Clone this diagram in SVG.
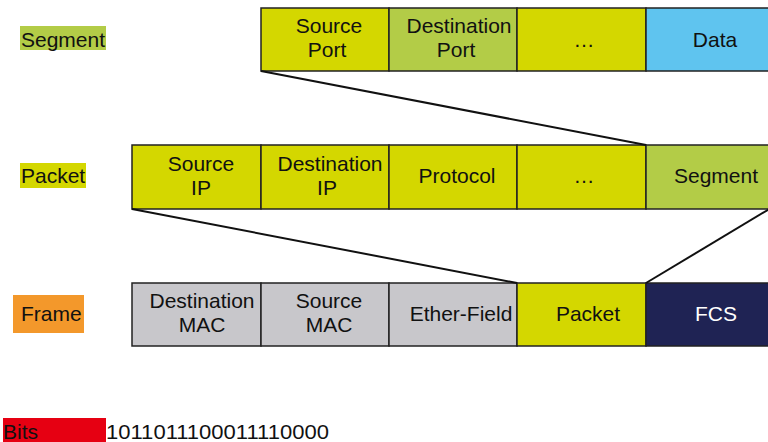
<svg xmlns="http://www.w3.org/2000/svg" width="768" height="442" viewBox="0 0 768 442">
<style>
text{font-family:"Liberation Sans",Arial,sans-serif;font-size:21px;fill:#111;text-anchor:middle}
.lbl{text-anchor:start}
.c{stroke:#222;stroke-width:1.5}
.yg{fill:#d4d700}.lg{fill:#b3cc47}.bl{fill:#5fc4ef}.gr{fill:#c8c7cb}.nv{fill:#1f2354}
.con{stroke:#111;stroke-width:2;fill:none}
</style>
<rect width="768" height="442" fill="#fff"/>
<g id="labels">
<rect x="20" y="26" width="86" height="24" fill="#b3cc47"/>
<text class="lbl" x="21" y="47">Segment</text>
<rect x="20" y="163" width="66" height="25" fill="#d4d700"/>
<text class="lbl" x="21" y="183">Packet</text>
<rect x="13" y="295" width="71" height="38" fill="#f3982b"/>
<text class="lbl" x="21" y="321">Frame</text>
<rect x="3" y="418" width="103" height="24" fill="#e60012"/>
<text class="lbl" x="3" y="439">Bits</text>
<text class="lbl" x="106" y="439" textLength="223" lengthAdjust="spacingAndGlyphs">1011011100011110000</text>
</g>
<g id="segment">
<rect class="c yg" x="261" y="8" width="128" height="63"/>
<rect class="c lg" x="389" y="8" width="128" height="63"/>
<rect class="c yg" x="517" y="8" width="129" height="63"/>
<rect class="c bl" x="646" y="8" width="130" height="63"/>
<text x="329" y="33">Source</text><text x="327" y="57">Port</text>
<text x="459" y="33">Destination</text><text x="456" y="57">Port</text>
<text x="584" y="47">…</text>
<text x="715" y="47">Data</text>
</g>
<g id="packet">
<rect class="c yg" x="132" y="145" width="129" height="64"/>
<rect class="c yg" x="261" y="145" width="128" height="64"/>
<rect class="c yg" x="389" y="145" width="128" height="64"/>
<rect class="c yg" x="517" y="145" width="129" height="64"/>
<rect class="c lg" x="646" y="145" width="130" height="64"/>
<text x="201" y="171">Source</text><text x="201" y="195">IP</text>
<text x="330" y="171">Destination</text><text x="327" y="195">IP</text>
<text x="457" y="183">Protocol</text>
<text x="584" y="183">…</text>
<text x="716" y="183">Segment</text>
</g>
<g id="frame">
<rect class="c gr" x="132" y="283" width="129" height="63"/>
<rect class="c gr" x="261" y="283" width="128" height="63"/>
<rect class="c gr" x="389" y="283" width="128" height="63"/>
<rect class="c yg" x="517" y="283" width="129" height="63"/>
<rect class="c nv" x="646" y="283" width="130" height="63"/>
<text x="202" y="308">Destination</text><text x="202" y="332">MAC</text>
<text x="329" y="308">Source</text><text x="329" y="332">MAC</text>
<text x="461" y="321">Ether-Field</text>
<text x="588" y="321">Packet</text>
<text x="716" y="321" style="fill:#fff">FCS</text>
</g>
<g id="connectors">
<line class="con" x1="261" y1="71" x2="646" y2="145"/>
<line class="con" x1="132" y1="209" x2="517" y2="283"/>
<line class="con" x1="646" y1="283" x2="776" y2="205"/>
</g>
</svg>
